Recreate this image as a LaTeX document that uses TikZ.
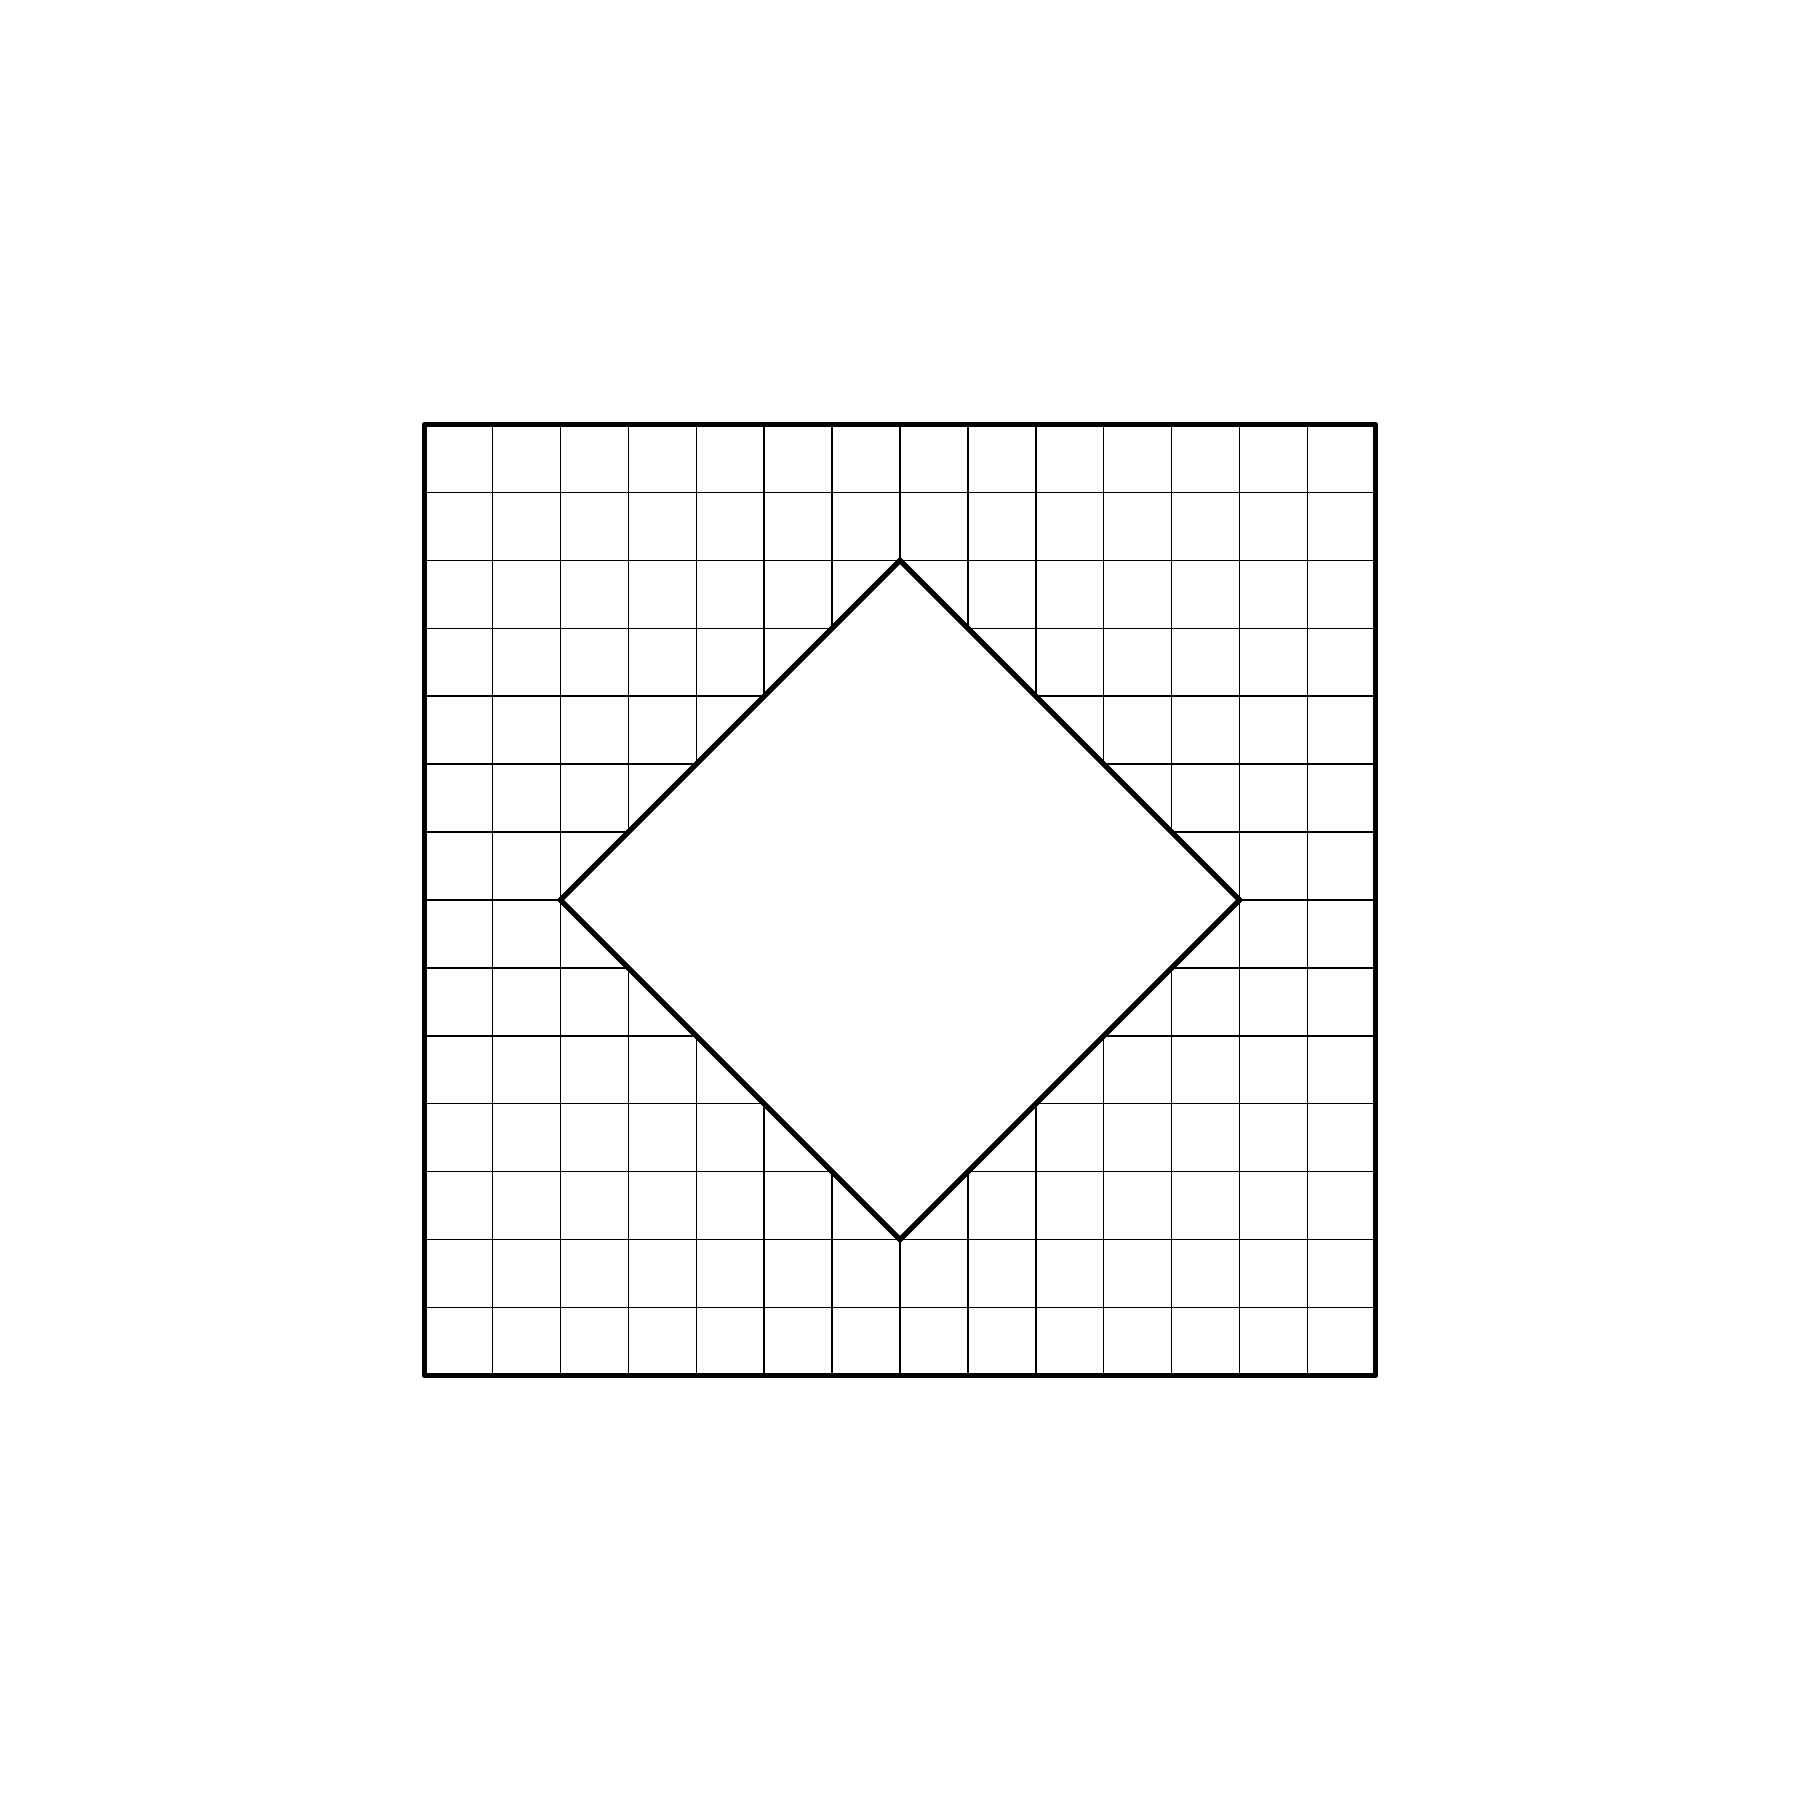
\documentclass[tikz,border=0pt]{standalone}
\usepackage{tikz}
\usetikzlibrary{calc}

\begin{document}
\begin{tikzpicture}[gridline/.style={line width=0.6pt},
    frame/.style={line width=2.4pt,line join=round,line cap=round},
    rhomb/.style={line width=2.2pt,line join=miter,fill=white}]

    \useasboundingbox (-6.25,-6.25) rectangle (20.25,20.25);

    \draw[gridline] (0,0) grid (14,14);

    \coordinate (c) at (7,7);
    \draw[rhomb] ($(c)+(0,5)$) -- ($(c)+(5,0)$) -- ($(c)+(0,-5)$) -- ($(c)+(-5,0)$) -- cycle;

    \draw[frame] (0,0) rectangle (14,14);
  \end{tikzpicture}
\end{document}
